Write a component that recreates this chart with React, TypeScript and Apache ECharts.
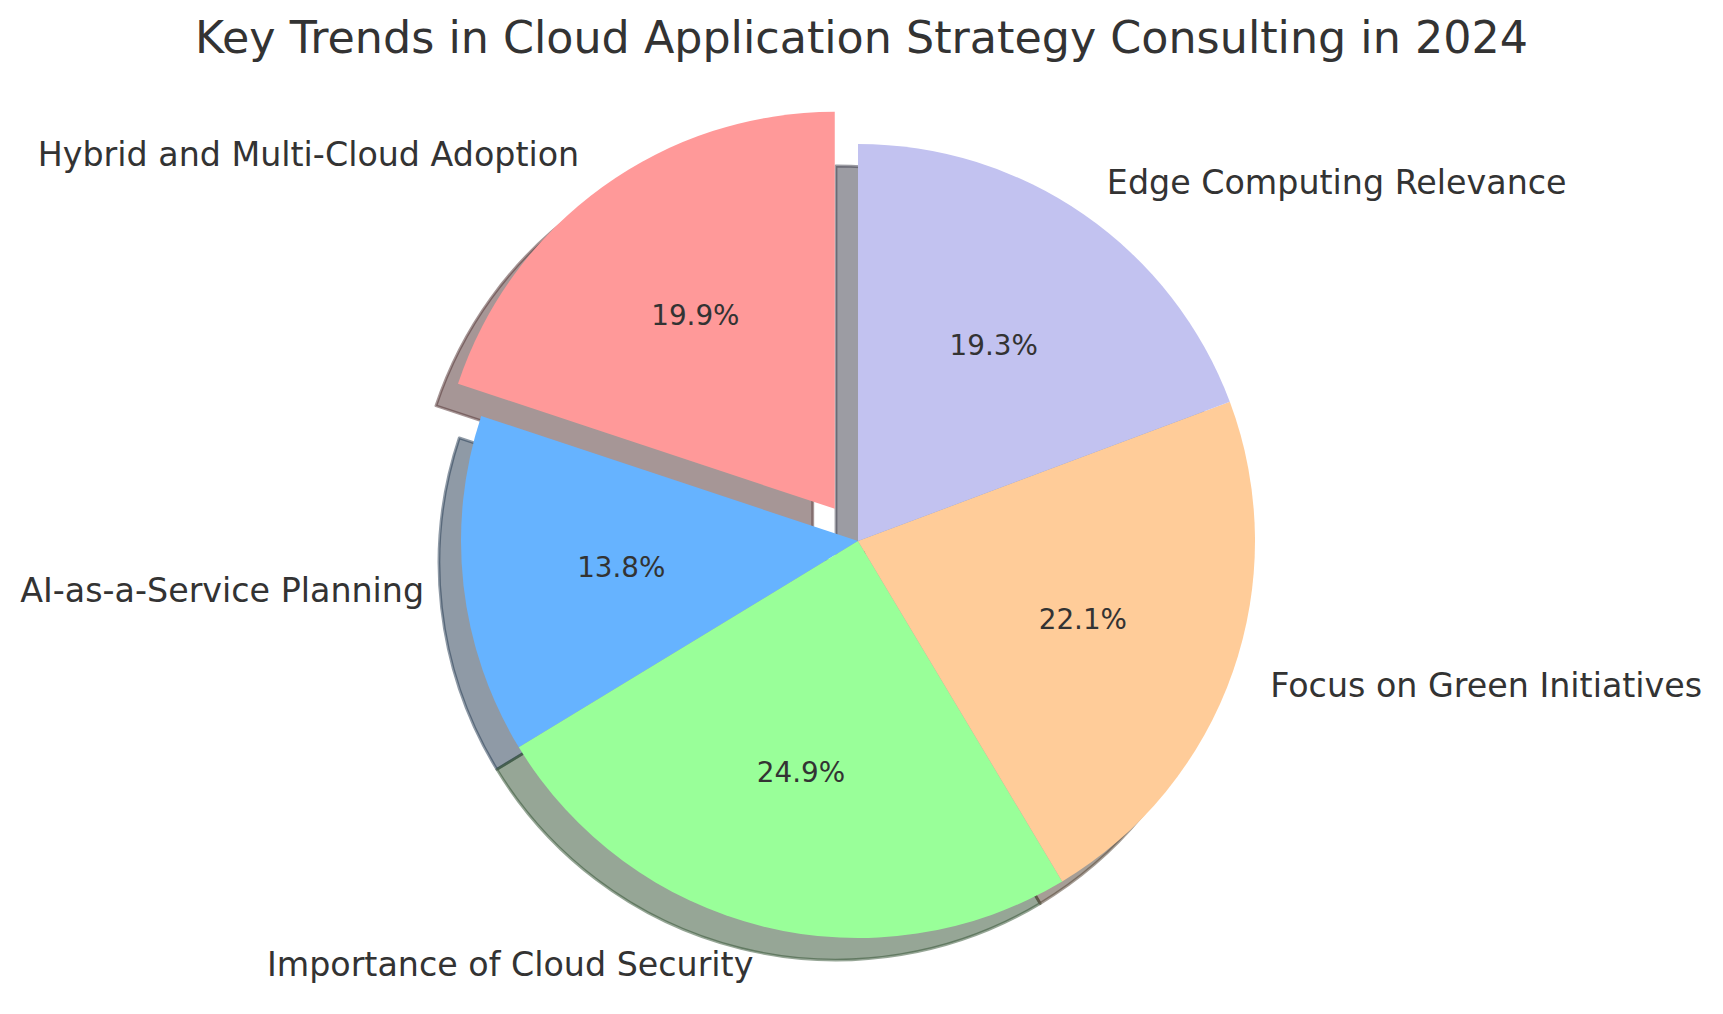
import React, { useEffect, useRef } from "react";
import * as echarts from "echarts";

const categories = [
  "Hybrid and Multi-Cloud Adoption",
  "AI-as-a-Service Planning",
  "Importance of Cloud Security",
  "Focus on Green Initiatives",
  "Edge Computing Relevance",
];
const shares = [19.9, 13.8, 24.9, 22.1, 19.3];
const exploded = [true, false, false, false, false];
const colors = ["#ff9999", "#66b3ff", "#99ff99", "#ffcc99", "#c2c2f0"];
const titleText = "Key Trends in Cloud Application Strategy Consulting in 2024";

const FONT = "'DejaVu Sans', sans-serif";
const TEXT = "#333333";
const CX = 858;
const CY = 541;
const R = 397;
const EXPLODE = 0.1 * R;
const SHADOW_DX = -22;
const SHADOW_DY = 22;

function shadowOf(hex: string): string {
  const n = parseInt(hex.slice(1), 16);
  const r = Math.round(((n >> 16) & 255) * 0.3);
  const g = Math.round(((n >> 8) & 255) * 0.3);
  const b = Math.round((n & 255) * 0.3);
  return `rgba(${r},${g},${b},0.5)`;
}

export default function App() {
  const ref = useRef<HTMLDivElement>(null);
  useEffect(() => {
    if (!ref.current) return;
    const chart = echarts.init(ref.current, undefined, { renderer: "svg" });
    const common = {
      type: "pie",
      radius: [0, R],
      startAngle: 90,
      clockwise: false,
      selectedMode: "multiple",
      selectedOffset: EXPLODE,
      avoidLabelOverlap: false,
      percentPrecision: 1,
      emphasis: { disabled: true },
    };
    chart.setOption({
      animation: false,
      backgroundColor: "#ffffff",
      title: {
        text: titleText,
        left: "center",
        top: 10,
        textStyle: { fontFamily: FONT, fontSize: 44.4, fontWeight: "normal", color: TEXT },
      },
      series: [
        {
          ...common,
          name: "shadow",
          silent: true,
          z: 1,
          center: [CX + SHADOW_DX, CY + SHADOW_DY],
          label: { show: false },
          labelLine: { show: false },
          data: categories.map((c, i) => ({
            name: c,
            value: shares[i],
            selected: exploded[i],
            itemStyle: { color: shadowOf(colors[i]), borderColor: shadowOf(colors[i]), borderWidth: 2.8 },
            select: { itemStyle: { color: shadowOf(colors[i]), borderColor: shadowOf(colors[i]), borderWidth: 2.8 } },
          })),
        },
        {
          ...common,
          name: "main",
          z: 2,
          center: [CX, CY],
          label: {
            show: true,
            position: "outside",
            formatter: "{b}",
            fontFamily: FONT,
            fontSize: 33.3,
            color: TEXT,
            distanceToLabelLine: 0,
          },
          labelLine: { show: false, length: EXPLODE, length2: 0 },
          data: categories.map((c, i) => ({
            name: c,
            value: shares[i],
            selected: exploded[i],
            itemStyle: { color: colors[i], borderWidth: 0 },
            select: { itemStyle: { color: colors[i], borderWidth: 0 } },
          })),
        },
        {
          ...common,
          name: "pct",
          silent: true,
          z: 3,
          center: [CX, CY],
          radius: [0, 2 * (0.6 * R - 3)],
          label: {
            show: true,
            position: "inside",
            formatter: "{d}%",
            fontFamily: FONT,
            fontSize: 27.8,
            color: TEXT,
          },
          labelLine: { show: false },
          data: categories.map((c, i) => ({
            name: c,
            value: shares[i],
            selected: exploded[i],
            itemStyle: { color: "rgba(0,0,0,0)", borderWidth: 0 },
            select: { itemStyle: { color: "rgba(0,0,0,0)", borderWidth: 0 } },
          })),
        },
      ],
    } as any);
    return () => chart.dispose();
  }, []);
  return (
    <div
      ref={ref}
      style={{ position: "absolute", left: 0, top: 0, width: 1723, height: 1014, background: "#fff" }}
    />
  );
}
